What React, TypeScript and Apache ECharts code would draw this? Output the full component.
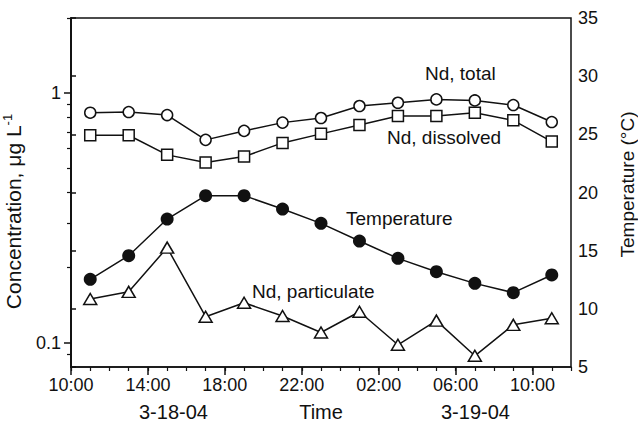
import React, { useEffect, useRef } from "react";
import * as echarts from "echarts";

// hours since 10:00 on 3-18-04
const sampleHours = [1, 3, 5, 7, 9, 11, 13, 15, 17, 19, 21, 23, 25];
const ndTotal = [0.835, 0.84, 0.817, 0.65, 0.706, 0.762, 0.795, 0.888, 0.915, 0.944, 0.935, 0.896, 0.766];
const ndDissolved = [0.678, 0.678, 0.566, 0.528, 0.557, 0.632, 0.687, 0.746, 0.81, 0.81, 0.835, 0.778, 0.64];
const ndParticulate = [0.1497, 0.16, 0.2405, 0.1272, 0.1447, 0.128, 0.11, 0.1332, 0.0982, 0.1227, 0.0887, 0.118, 0.1254];
const temperature = [12.54, 14.57, 17.72, 19.73, 19.73, 18.58, 17.35, 15.83, 14.34, 13.19, 12.19, 11.39, 12.91];

const timeTicks = [0, 4, 8, 12, 16, 20, 24];
const timeTickLabels = ["10:00", "14:00", "18:00", "22:00", "02:00", "06:00", "10:00"];
const hourTicks = [0, 1, 2, 3, 4, 5, 6, 7, 8, 9, 10, 11, 12, 13, 14, 15, 16, 17, 18, 19, 20, 21, 22, 23, 24, 25, 26];
const concMajorTicks = [0.1, 1];
const concMajorLabels = ["0.1", "1"];
const concMinorTicks = [0.09, 0.2, 0.3, 0.4, 0.5, 0.6, 0.7, 0.8, 0.9, 2];

const FONT = "'Liberation Sans', Arial, Helvetica, sans-serif";
const INK = "#111";

export default function App() {
  const ref = useRef<HTMLDivElement>(null);
  useEffect(() => {
    if (!ref.current) return;
    const chart = echarts.init(ref.current, null, { renderer: "svg" });
    const pair = (ys: number[]) => sampleHours.map((x, i) => [x, ys[i]]);
    const lineStyle = { color: INK, width: 1.5 };
    const axisLine = { show: true, lineStyle: { color: INK, width: 1.5 } };
    chart.setOption({
      animation: false,
      textStyle: { fontFamily: FONT, color: INK },
      grid: {
        left: 71,
        right: 67,
        top: 18,
        bottom: 56,
        show: true,
        borderColor: INK,
        borderWidth: 1.5,
        backgroundColor: "transparent",
        outerBoundsMode: "none",
      },
      xAxis: [
        {
          type: "value",
          min: 0,
          max: 26,
          position: "bottom",
          axisLine,
          axisTick: { show: true, customValues: timeTicks, length: 8, lineStyle: { color: INK, width: 1.5 } },
          axisLabel: {
            customValues: timeTicks,
            formatter: (v: number) => timeTickLabels[timeTicks.indexOf(Math.round(v))] ?? "",
            fontSize: 18,
            color: INK,
            fontFamily: FONT,
            margin: 9,
          },
          splitLine: { show: false },
          name: "Time",
          nameLocation: "middle",
          nameGap: 35,
          nameTextStyle: { fontSize: 20, color: INK, fontFamily: FONT },
        },
        {
          type: "value",
          min: 0,
          max: 26,
          position: "bottom",
          axisLine: { show: false },
          axisTick: { show: true, customValues: hourTicks, length: 4, lineStyle: { color: INK, width: 1.2 } },
          axisLabel: { show: false },
          splitLine: { show: false },
        },
      ],
      yAxis: [
        {
          type: "log",
          logBase: 10,
          min: 0.08,
          max: 2,
          position: "left",
          axisLine,
          axisTick: { show: true, customValues: concMajorTicks, length: 7, lineStyle: { color: INK, width: 1.5 } },
          axisLabel: {
            customValues: concMajorTicks,
            formatter: (v: number) => concMajorLabels[v < 0.5 ? 0 : 1],
            fontSize: 18,
            color: INK,
            fontFamily: FONT,
            margin: 10,
          },
          splitLine: { show: false },
          name: "Concentration, μg L{sup|-1}",
          nameLocation: "middle",
          nameGap: 33,
          nameRotate: 90,
          nameTextStyle: {
            fontSize: 21,
            color: INK,
            fontFamily: FONT,
            lineHeight: 24,
            padding: [0, 38, 0, 0],
            rich: {
              sup: { fontSize: 13, verticalAlign: "top", lineHeight: 12, color: INK, fontFamily: FONT },
            },
          },
        },
        {
          type: "value",
          min: 5,
          max: 35,
          interval: 5,
          position: "right",
          axisLine,
          axisTick: { show: true, length: 5, lineStyle: { color: INK, width: 1.5 } },
          axisLabel: { fontSize: 18, color: INK, fontFamily: FONT, margin: 7 },
          splitLine: { show: false },
          name: "Temperature (°C)",
          nameLocation: "middle",
          nameGap: 47,
          nameRotate: 90,
          nameTextStyle: { fontSize: 19, color: INK, fontFamily: FONT, padding: [0, 0, 0, 16] },
        },
        {
          type: "log",
          logBase: 10,
          min: 0.08,
          max: 2,
          position: "left",
          axisLine: { show: false },
          axisTick: { show: true, customValues: concMinorTicks, length: 4, lineStyle: { color: INK, width: 1.2 } },
          axisLabel: { show: false },
          splitLine: { show: false },
        },
      ],
      series: [
        {
          name: "Nd, total",
          type: "line",
          yAxisIndex: 0,
          data: pair(ndTotal),
          symbol: "circle",
          symbolSize: 11,
          lineStyle,
          itemStyle: { color: "#fff", borderColor: INK, borderWidth: 1.5 },
        },
        {
          name: "Nd, dissolved",
          type: "line",
          yAxisIndex: 0,
          data: pair(ndDissolved),
          symbol: "rect",
          symbolSize: 11,
          lineStyle,
          itemStyle: { color: "#fff", borderColor: INK, borderWidth: 1.5 },
        },
        {
          name: "Nd, particulate",
          type: "line",
          yAxisIndex: 0,
          data: pair(ndParticulate),
          symbol: "triangle",
          symbolSize: [13, 11],
          lineStyle,
          itemStyle: { color: "#fff", borderColor: INK, borderWidth: 1.5 },
        },
        {
          name: "Temperature",
          type: "line",
          yAxisIndex: 1,
          data: pair(temperature),
          symbol: "circle",
          symbolSize: 13,
          lineStyle,
          itemStyle: { color: INK, borderColor: INK, borderWidth: 0 },
        },
      ],
      graphic: [
        { type: "text", left: 425, top: 64, style: { text: "Nd, total", fontSize: 19, fontFamily: FONT, fill: INK } },
        { type: "text", left: 387, top: 128, style: { text: "Nd, dissolved", fontSize: 19, fontFamily: FONT, fill: INK } },
        { type: "text", left: 346, top: 209, style: { text: "Temperature", fontSize: 19, fontFamily: FONT, fill: INK } },
        { type: "text", left: 252, top: 282, style: { text: "Nd, particulate", fontSize: 19, fontFamily: FONT, fill: INK } },
        { type: "text", left: 139, top: 402, style: { text: "3-18-04", fontSize: 20, fontFamily: FONT, fill: INK } },
        { type: "text", left: 441, top: 402, style: { text: "3-19-04", fontSize: 20, fontFamily: FONT, fill: INK } },
      ],
    });
    return () => chart.dispose();
  }, []);
  return <div ref={ref} style={{ position: "absolute", left: 0, top: 0, width: 638, height: 423 }} />;
}
